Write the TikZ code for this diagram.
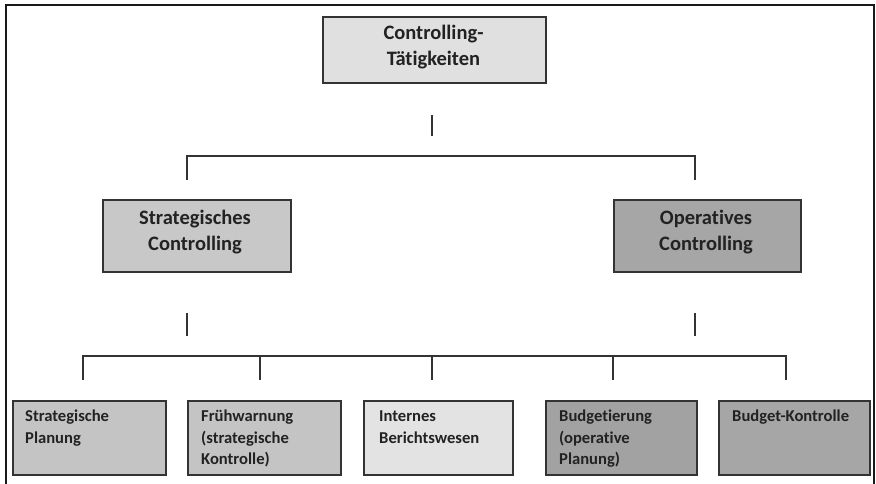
\documentclass[tikz,border=0pt]{standalone}
\usepackage{fontspec}
\setmainfont[Ligatures=NoCommon]{Carlito}

\begin{document}

\definecolor{topfill}{HTML}{E0E0E0}
\definecolor{stratfill}{HTML}{C8C8C8}
\definecolor{operfill}{HTML}{A6A6A6}
\definecolor{leafA}{HTML}{C4C4C4}
\definecolor{leafB}{HTML}{E3E3E3}
\definecolor{leafC}{HTML}{A2A2A2}
\definecolor{edge}{HTML}{333333}
\definecolor{ink}{HTML}{222222}

\begin{tikzpicture}[x=1pt,y=-1pt,
  box/.style={draw=edge, line width=1.6pt, rectangle, inner sep=0pt, anchor=north west},
  leaf/.style={box, minimum height=74pt},
  mid/.style={box, minimum height=72pt},
  bigtext/.style={inner sep=0pt, anchor=base, text=ink, font=\bfseries\fontsize{20.5}{26}\selectfont},
  leaftext/.style={inner sep=0pt, anchor=base west, text=ink, font=\bfseries\fontsize{16.6}{21.7}\selectfont},
  link/.style={draw=edge, line width=1.4pt}
]
\useasboundingbox (0,0) rectangle (876,484);
\fill[white] (0,0) rectangle (876,484);

% outer frame (open at the bottom)
\draw[draw=black!90, line width=1.5pt] (6,490) -- (6,5) -- (874,5) -- (874,490);

% level 0
\node[box, fill=topfill, minimum width=223pt, minimum height=66pt] (top) at (322,16) {};
\node[bigtext] (toptxt) at (433.5,39.5) {\begin{tabular}[t]{@{}c@{}}Controlling-\\Tätigkeiten\end{tabular}};

% level 1
\node[mid, fill=stratfill, minimum width=188pt] (strat) at (102,199) {};
\node[mid, fill=operfill, minimum width=187pt] (oper) at (613,199) {};
\node[bigtext] (strattxt) at (195,225) {\begin{tabular}[t]{@{}c@{}}Strategisches\\Controlling\end{tabular}};
\node[bigtext] (opertxt) at (706,225) {\begin{tabular}[t]{@{}c@{}}Operatives\\Controlling\end{tabular}};

% level 2
\node[leaf, fill=leafA, minimum width=153pt] (b1) at (12,400) {};
\node[leaf, fill=leafA, minimum width=153pt] (b2) at (187,400) {};
\node[leaf, fill=leafB, minimum width=149pt] (b3) at (363,400) {};
\node[leaf, fill=leafC, minimum width=151pt] (b4) at (545,400) {};
\node[leaf, fill=operfill, minimum width=151pt] (b5) at (718,400) {};

\node[leaftext] (t1) at ([shift={(13,21.5)}]b1.north west) {\begin{tabular}[t]{@{}l@{}}Strategische\\Planung\end{tabular}};
\node[leaftext] (t2) at ([shift={(14,21.5)}]b2.north west) {\begin{tabular}[t]{@{}l@{}}Frühwarnung\\(strategische\\Kontrolle)\end{tabular}};
\node[leaftext] (t3) at ([shift={(16,21.5)}]b3.north west) {\begin{tabular}[t]{@{}l@{}}Internes\\Berichtswesen\end{tabular}};
\node[leaftext] (t4) at ([shift={(14,21.5)}]b4.north west) {\begin{tabular}[t]{@{}l@{}}Budgetierung\\(operative\\Planung)\end{tabular}};
\node[leaftext] (t5) at ([shift={(14,21.5)}]b5.north west) {Budget-Kontrolle};

% connector points
\coordinate (s0a) at (432,115);  \coordinate (s0b) at (432,136);
\coordinate (h1l) at (187,156);  \coordinate (h1r) at (695,156);
\coordinate (d1l) at (187,180);  \coordinate (d1r) at (695,180);
\coordinate (s1a) at (187,313);  \coordinate (s1b) at (187,336);
\coordinate (s2a) at (695,313);  \coordinate (s2b) at (695,336);
\coordinate (h2l) at (83,356);   \coordinate (h2r) at (786,356);
\coordinate (c2) at (260,356);   \coordinate (c3) at (432,356);  \coordinate (c4) at (613,356);
\coordinate (e1) at (83,380);    \coordinate (e2) at (260,380);  \coordinate (e3) at (432,380);
\coordinate (e4) at (613,380);   \coordinate (e5) at (786,380);

% connectors
\draw[link] (s0a) -- (s0b);
\draw[link] (d1l) -- (h1l) -- (h1r) -- (d1r);
\draw[link] (s1a) -- (s1b);
\draw[link] (s2a) -- (s2b);
\draw[link] (e1) -- (h2l) -- (h2r) -- (e5);
\draw[link] (c2) -- (e2);
\draw[link] (c3) -- (e3);
\draw[link] (c4) -- (e4);
\end{tikzpicture}

\end{document}
